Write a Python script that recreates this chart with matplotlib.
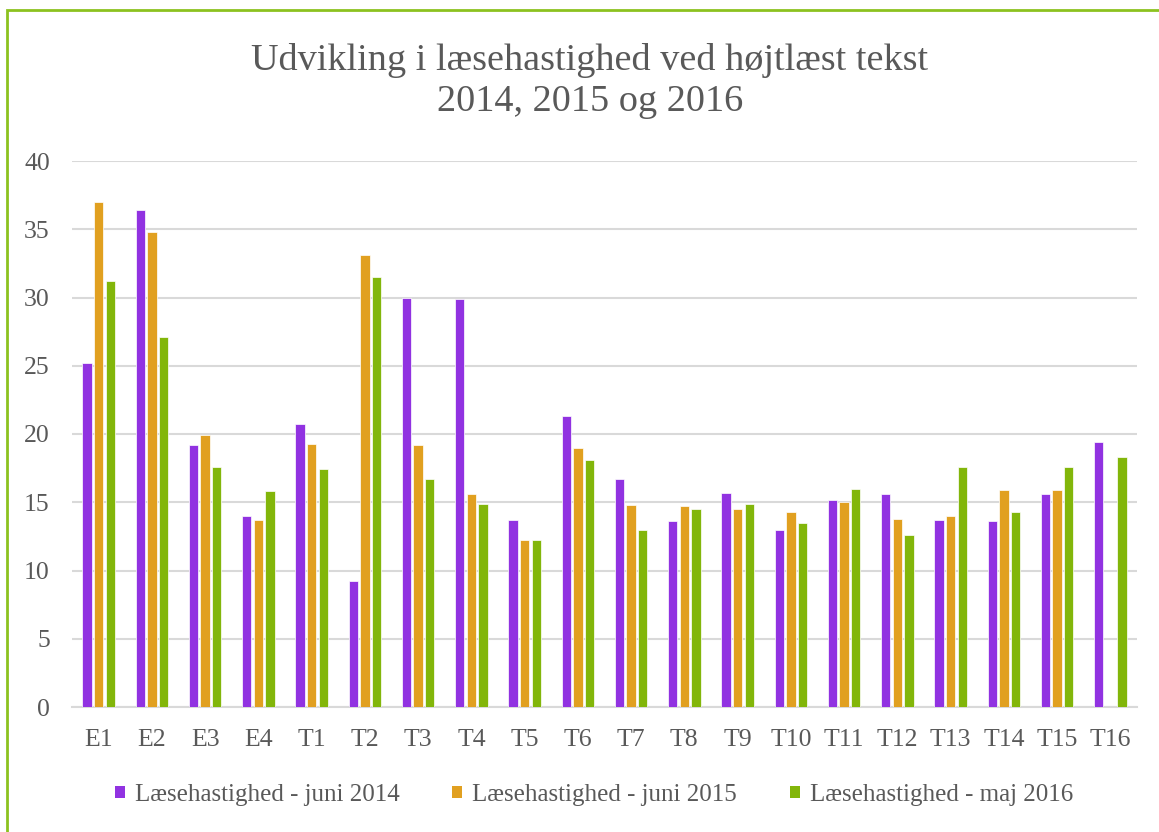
import numpy as np
import matplotlib
matplotlib.use("Agg")
import matplotlib.pyplot as plt
from matplotlib.patches import Rectangle, Patch

categories = ["E1", "E2", "E3", "E4", "T1", "T2", "T3", "T4", "T5", "T6",
              "T7", "T8", "T9", "T10", "T11", "T12", "T13", "T14", "T15", "T16"]
juni2014 = [25.2, 36.4, 19.2, 14.0, 20.7, 9.2, 30.0, 29.9, 13.7, 21.3,
            16.7, 13.6, 15.7, 13.0, 15.2, 15.6, 13.7, 13.6, 15.6, 19.4]
juni2015 = [37.0, 34.8, 19.9, 13.7, 19.3, 33.1, 19.2, 15.6, 12.2, 19.0,
            14.8, 14.7, 14.5, 14.3, 15.0, 13.8, 14.0, 15.9, 15.9, np.nan]
maj2016 = [31.2, 27.1, 17.6, 15.8, 17.4, 31.5, 16.7, 14.9, 12.2, 18.1,
           13.0, 14.5, 14.9, 13.5, 16.0, 12.6, 17.6, 14.3, 17.6, 18.3]
series_labels = ["Læsehastighed - juni 2014", "Læsehastighed - juni 2015",
                 "Læsehastighed - maj 2016"]
colors = ["#9132E1", "#E1A020", "#82B60A"]
yticks = [0, 5, 10, 15, 20, 25, 30, 35, 40]

W, H = 1159, 832
fig = plt.figure(figsize=(W / 100, H / 100), dpi=100)
plt.rcParams['font.family'] = ['Liberation Serif', 'DejaVu Serif']
txt = "#595959"

ax = fig.add_axes([72 / W, 1 - 707 / H, 1065 / W, 546 / H])
x = np.arange(len(categories))
off = 0.22
bw = 0.175
for i, (vals, c) in enumerate(zip([juni2014, juni2015, maj2016], colors)):
    ax.bar(x + (i - 1) * off, vals, width=bw, color=c, edgecolor="white",
           linewidth=0.5, zorder=3)

ax.set_xlim(-0.5, len(categories) - 0.5)
ax.set_ylim(0, 40)
ax.set_yticks(yticks)
ax.set_yticklabels([str(v) for v in yticks], fontsize=18.5, color=txt)
ax.set_xticks(x)
ax.set_xticklabels(categories, fontsize=18.5, color=txt)
ax.tick_params(axis='both', length=0)
ax.tick_params(axis='y', pad=16)
ax.tick_params(axis='x', pad=16)
ax.grid(axis='y', color="#D9D9D9", linewidth=1.5, zorder=0)
for s in ["top", "right", "left"]:
    ax.spines[s].set_visible(False)
ax.spines["bottom"].set_color("#D9D9D9")
ax.spines["bottom"].set_linewidth(1.5)

fig.text(590 / W, 1 - 61 / H, "Udvikling i læsehastighed ved højtlæst tekst",
         ha="center", va="center", fontsize=27.5, color=txt)
fig.text(590 / W, 1 - 102 / H, "2014, 2015 og 2016",
         ha="center", va="center", fontsize=27.5, color=txt)

handles = [Patch(facecolor=c, edgecolor="none") for c in colors]
leg = fig.legend(handles, series_labels, loc="center", ncol=3,
                 bbox_to_anchor=(594 / W, 1 - 795 / H), frameon=False,
                 fontsize=18, handlelength=0.4, handleheight=0.4,
                 handletextpad=0.4, columnspacing=2.1)
for t in leg.get_texts():
    t.set_color(txt)

fig.patches.append(Rectangle((7 / W, -0.1), 1.2, 1.1 - 10 / H,
                             transform=fig.transFigure, fill=False,
                             edgecolor="#8CC21F", linewidth=2))

fig.savefig("out.png", dpi=100)
